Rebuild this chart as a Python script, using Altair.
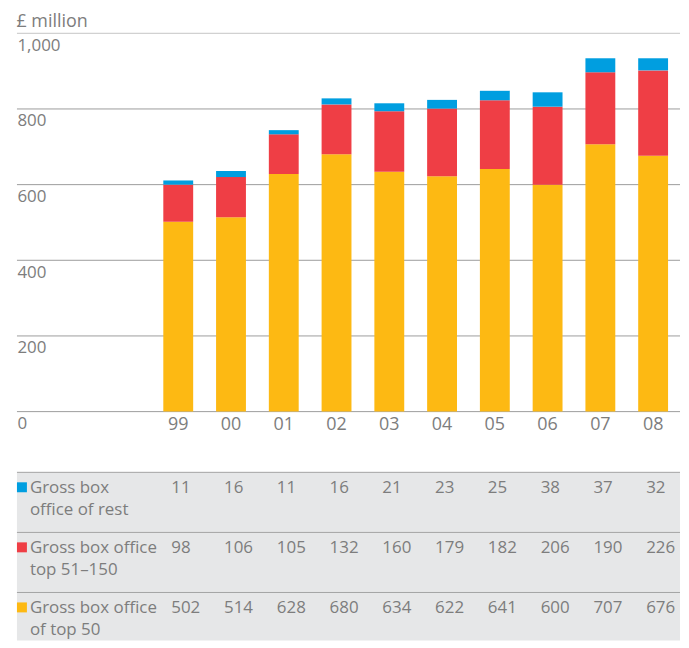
import altair as alt
import pandas as pd

# ---- data ----
years = ["99", "00", "01", "02", "03", "04", "05", "06", "07", "08"]
rest = [11, 16, 11, 16, 21, 23, 25, 38, 37, 32]
top51_150 = [98, 106, 105, 132, 160, 179, 182, 206, 190, 226]
top50 = [502, 514, 628, 680, 634, 622, 641, 600, 707, 676]

series_keys = ["top50", "top51_150", "rest"]          # stacking order (bottom -> top)
series_values = [top50, top51_150, rest]
series_colors = ["#fdb913", "#ef3e45", "#009ee0"]
series_labels = ["Gross box office\nof top 50", "Gross box office\ntop 51–150", "Gross box\noffice of rest"]
table_order = ["rest", "top51_150", "top50"]           # table rows (top -> bottom)
y_ticks = [0, 200, 400, 600, 800, 1000]

FONT = "Open Sans"
GREY = "#7d7d7d"

rows = []
for k, vals, lab in zip(series_keys, series_values, series_labels):
    for i, (yr, v) in enumerate(zip(years, vals)):
        rows.append({"year": yr, "series": k, "value": v, "label": lab,
                     "order": series_keys.index(k), "first": i == 0})
df = pd.DataFrame(rows)
ticks_df = pd.DataFrame({"tick": y_ticks})

xscale = alt.Scale(type="band", domain=years, range=[147, 654], paddingInner=0.434, paddingOuter=0)
yscale = alt.Scale(domain=[0, 1000], nice=False)
color_scale = alt.Scale(domain=series_keys, range=series_colors)

# ---- bar chart ----
grid = alt.Chart(ticks_df).mark_rule(strokeWidth=1).encode(
    y=alt.Y("tick:Q", scale=yscale,
            axis=alt.Axis(title=None, values=y_ticks, format=",.0f", domain=False, ticks=False,
                          tickSize=0, labelAlign="left", labelBaseline="top", labelPadding=0,
                          labelOffset=4, labelFontSize=17, labelFont=FONT, labelColor=GREY,
                          grid=False)),
    x=alt.value(0), x2=alt.value("width"),
    color=alt.condition("datum.tick === 1000", alt.value("#c6c6c6"), alt.value("#9c9c9c")),
)

bars = alt.Chart(df).mark_bar().encode(
    x=alt.X("year:N", scale=xscale,
            axis=alt.Axis(title=None, domain=False, ticks=False, labelAngle=0,
                          labelFontSize=18, labelFont=FONT, labelColor=GREY, labelPadding=4)),
    y=alt.Y("value:Q", stack="zero", scale=yscale),
    color=alt.Color("series:N", scale=color_scale, legend=None),
    order=alt.Order("order:Q"),
)

top = alt.layer(grid, bars).properties(
    width=666, height=380,
    title=alt.TitleParams("£ million", anchor="start", fontSize=18, font=FONT,
                          color=GREY, fontWeight="normal", offset=2))

# ---- table ----
yrow = alt.Y("series:N", bandPosition=0,
             scale=alt.Scale(type="band", domain=table_order, range=[0, 181],
                             paddingInner=0, paddingOuter=0),
             axis=None)

base = alt.Chart(df)
first = base.transform_filter("datum.first")

row_lines = first.mark_rule(strokeWidth=1, color="#a3a3a3").encode(
    y=yrow, x=alt.value(0), x2=alt.value("width"))

nums = base.mark_text(align="left", baseline="top", dx=-7, dy=8, fontSize=17,
                      font=FONT, color=GREY).encode(
    x=alt.X("year:N", scale=xscale, axis=None), y=yrow, text="value:Q")

labels = first.mark_text(
    align="left", baseline="top", dy=8, fontSize=17, font=FONT, color=GREY,
    lineBreak="\n", lineHeight=22).encode(
    x=alt.value(13), y=yrow, text="label:N")

squares = first.mark_square(size=100, opacity=1).encode(
    x=alt.value(5), y=yrow, yOffset=alt.value(15),
    color=alt.Color("series:N", scale=color_scale, legend=None))

table = alt.layer(row_lines, nums, labels, squares).properties(
    width=666, height=169,
    view=alt.ViewBackground(fill="#e6e7e8", strokeWidth=0))

chart = alt.vconcat(top, table, spacing=38).properties(
    padding={"left": 8, "top": 3, "right": 0, "bottom": 0}
).configure_view(strokeWidth=0)

chart.save("out.html", embed_options={"renderer": "svg", "actions": False})
